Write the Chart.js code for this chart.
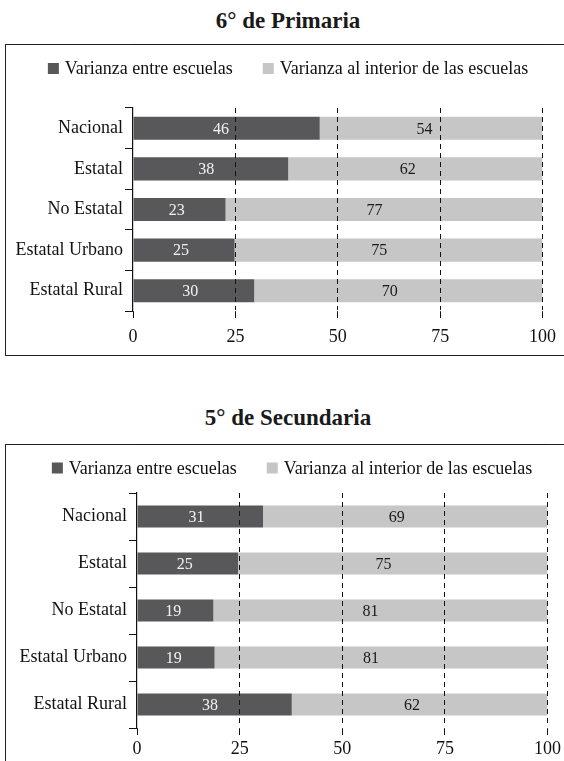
<!DOCTYPE html>
<html>
<head>
<meta charset="utf-8">
<script src="https://cdn.jsdelivr.net/npm/chart.js@4.4.1/dist/chart.umd.min.js"></script>
<style>
  html, body { margin: 0; padding: 0; background: #fff; }
  body { width: 564px; height: 761px; position: relative; overflow: hidden; font-family: 'Liberation Serif', 'DejaVu Serif', serif; }
  .titulo { position: absolute; left: 0; width: 576px; text-align: center; font-size: 23px; font-weight: bold; color: #1a1a1a; line-height: 28px; }
  .marco { position: absolute; left: 5px; width: 600px; border: 1.5px solid #222; box-sizing: border-box; }
  .lienzo { position: absolute; left: 0; width: 564px; }
</style>
</head>
<body>
<div class="titulo" style="top:7px;">6° de Primaria</div>
<div class="marco" style="top:44px; height:312px;"></div>
<div class="lienzo" style="top:44px; height:311px;"><canvas id="primariaChart"></canvas></div>

<div class="titulo" style="top:404px;">5° de Secundaria</div>
<div class="marco" style="top:444px; height:340px;"></div>
<div class="lienzo" style="top:444px; height:317px;"><canvas id="secundariaChart"></canvas></div>

<script>
// datos
var categorias = ['Nacional', 'Estatal', 'No Estatal', 'Estatal Urbano', 'Estatal Rural'];
var series = ['Varianza entre escuelas', 'Varianza al interior de las escuelas'];
var primariaEntre = [45.6, 37.9, 22.6, 24.8, 29.6];
var primariaInterior = [54.4, 62.1, 77.4, 75.2, 70.4];
var secundariaEntre = [30.7, 24.6, 18.6, 18.9, 37.7];
var secundariaInterior = [69.3, 75.4, 81.4, 81.1, 62.3];
var ticksX = [0, 25, 50, 75, 100];

var colorOscuro = '#58585a';
var colorClaro = '#c6c6c7';
var fuente = "'Liberation Serif', 'DejaVu Serif', serif";

Chart.defaults.font.family = fuente;
Chart.defaults.color = '#111';

// leyenda propia: cuadros pequeños y separación amplia entre elementos
var leyendaPlugin = {
    id: 'leyendaCuadros',
    afterDraw: function(chart, args, opts) {
        var ctx = chart.ctx;
        ctx.save();
        ctx.font = '18px ' + fuente;
        ctx.textBaseline = 'middle';
        var items = chart.data.datasets.map(function(ds) {
            return { texto: ds.label, color: ds.backgroundColor, ancho: 11 + 6 + ctx.measureText(ds.label).width };
        });
        var total = items.reduce(function(s, it) { return s + it.ancho; }, 0) + 30 * (items.length - 1);
        var x = opts.centro - total / 2;
        items.forEach(function(it) {
            ctx.fillStyle = it.color;
            ctx.fillRect(x, opts.y - 5.5, 11, 11);
            ctx.fillStyle = '#111';
            ctx.fillText(it.texto, x + 17, opts.y + 1);
            x += it.ancho + 30;
        });
        ctx.restore();
    }
};

// etiquetas de valor dentro de cada segmento
var etiquetasPlugin = {
    id: 'etiquetasValor',
    afterDatasetsDraw: function(chart) {
        var ctx = chart.ctx;
        ctx.save();
        ctx.font = '16px ' + fuente;
        ctx.textAlign = 'center';
        ctx.textBaseline = 'middle';
        chart.data.datasets.forEach(function(ds, i) {
            var meta = chart.getDatasetMeta(i);
            ctx.fillStyle = i === 0 ? '#f2f2f2' : '#1a1a1a';
            meta.data.forEach(function(bar, j) {
                var cx = bar.base + (bar.x - bar.base) * 0.47;
                ctx.fillText(String(Math.round(ds.data[j])), cx, bar.y + 1);
            });
        });
        ctx.restore();
    }
};

function crearGrafica(id, entre, interior, opt) {
    var ctx = document.getElementById(id).getContext('2d');
    return new Chart(ctx, {
        type: 'bar',
        data: {
            labels: categorias,
            datasets: [{
                label: series[0],
                data: entre,
                backgroundColor: colorOscuro,
                barPercentage: opt.barra,
                categoryPercentage: 1
            }, {
                label: series[1],
                data: interior,
                backgroundColor: colorClaro,
                barPercentage: opt.barra,
                categoryPercentage: 1
            }]
        },
        options: {
            indexAxis: 'y',
            responsive: true,
            maintainAspectRatio: false,
            animation: false,
            layout: { padding: { top: opt.arriba, right: opt.derecha, bottom: 0, left: 0 } },
            plugins: {
                legend: { display: false },
                tooltip: { enabled: false },
                leyendaCuadros: { centro: opt.centroLeyenda, y: opt.yLeyenda }
            },
            scales: {
                x: {
                    stacked: true,
                    min: 0,
                    max: 100,
                    afterBuildTicks: function(s) { s.ticks = ticksX.map(function(v) { return { value: v }; }); },
                    afterFit: function(s) { s.height = opt.altoX; },
                    grid: {
                        z: 1,
                        color: function(c) { return c.tick && c.tick.value === 0 ? 'rgba(0,0,0,0)' : '#111'; },
                        lineWidth: 1,
                        tickColor: '#111',
                        tickLength: 7,
                        tickBorderDash: []
                    },
                    border: { color: '#111', width: 1.2, dash: [5, 4] },
                    ticks: { color: '#111', font: { size: 18 }, padding: opt.padTicks, maxRotation: 0 }
                },
                y: {
                    stacked: true,
                    afterFit: function(s) { s.width = opt.anchoY; },
                    grid: {
                        drawOnChartArea: false,
                        offset: true,
                        tickColor: '#111',
                        tickLength: 8
                    },
                    border: { color: '#111', width: 1.2 },
                    ticks: { color: '#111', font: { size: 18 }, padding: 2 }
                }
            }
        },
        plugins: [leyendaPlugin, etiquetasPlugin]
    });
}

var primariaChart = crearGrafica('primariaChart', primariaEntre, primariaInterior,
    { barra: 0.57, arriba: 64, derecha: 20, anchoY: 133, altoX: 44, padTicks: 8, centroLeyenda: 288, yLeyenda: 24.5 });
var secundariaChart = crearGrafica('secundariaChart', secundariaEntre, secundariaInterior,
    { barra: 0.47, arriba: 49, derecha: 16, anchoY: 137, altoX: 33, padTicks: 3, centroLeyenda: 292, yLeyenda: 24 });
</script>
</body>
</html>
